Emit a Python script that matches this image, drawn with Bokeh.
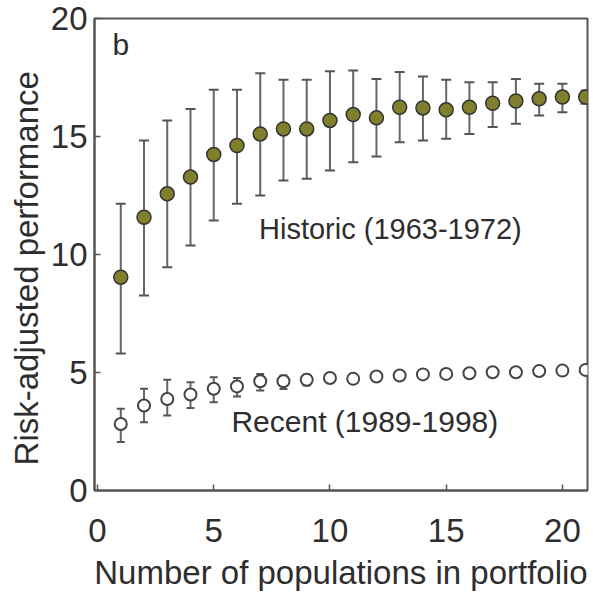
from bokeh.plotting import figure
from bokeh.models import ColumnDataSource, Whisker, Label, FixedTicker, Range1d
from bokeh.embed import file_html
from bokeh.resources import INLINE

# ---- data ----
n_pop = list(range(1, 22))

hist_mean = [9.04, 11.58, 12.57, 13.28, 14.24, 14.62, 15.11, 15.32, 15.32, 15.68,
             15.93, 15.79, 16.24, 16.21, 16.13, 16.24, 16.41, 16.50, 16.60, 16.67, 16.67]
hist_upper = [12.15, 14.83, 15.68, 16.17, 16.98, 16.98, 17.68, 17.40, 17.40, 17.77,
              17.80, 17.44, 17.73, 17.54, 17.40, 17.30, 17.30, 17.44, 17.23, 17.23, 16.95]
hist_lower = [5.80, 8.26, 9.46, 10.38, 11.44, 12.15, 12.50, 13.14, 13.21, 13.56,
              13.91, 14.15, 14.76, 14.83, 14.90, 15.11, 15.40, 15.54, 15.89, 16.03, 16.39]

rec_mean = [2.82, 3.60, 3.88, 4.07, 4.31, 4.41, 4.63, 4.63, 4.69, 4.77,
            4.73, 4.83, 4.87, 4.92, 4.94, 4.97, 5.01, 5.01, 5.06, 5.08, 5.11]
rec_upper = [3.46, 4.31, 4.69, 4.59, 4.80, 4.77, 4.94, 4.87, 4.90, 4.95,
             4.90, 4.98, 5.02, 5.06, 5.08, 5.10, 5.14, 5.14, 5.18, 5.20, 5.22]
rec_lower = [2.05, 2.89, 3.18, 3.50, 3.74, 3.98, 4.24, 4.30, 4.45, 4.58,
             4.56, 4.68, 4.72, 4.78, 4.80, 4.84, 4.88, 4.88, 4.94, 4.96, 5.00]

x_ticks = [0, 5, 10, 15, 20]
y_ticks = [0, 5, 10, 15, 20]

panel_letter = "b"
hist_label = "Historic (1963-1972)"
rec_label = "Recent (1989-1998)"
x_title = "Number of populations in portfolio"
y_title = "Risk-adjusted performance"

FONT = "Liberation Sans"
TXT = "#2e2e2e"
OLIVE = "#7f7f2c"

hist_src = ColumnDataSource(dict(x=n_pop, y=hist_mean, up=hist_upper, lo=hist_lower))
rec_src = ColumnDataSource(dict(x=n_pop, y=rec_mean, up=rec_upper, lo=rec_lower))

p = figure(width=593, height=596, output_backend="svg", toolbar_location=None,
           x_range=Range1d(-0.13, 21.08), y_range=Range1d(0, 20),
           min_border_left=94, min_border_right=6, min_border_top=18, min_border_bottom=106)

p.grid.visible = False
p.outline_line_color = "#555555"
p.outline_line_width = 2
p.background_fill_color = "white"
p.border_fill_color = "white"

for ax in (p.xaxis[0], p.yaxis[0]):
    ax.axis_line_color = "#555555"
    ax.axis_line_width = 2
    ax.major_tick_in = 6
    ax.major_tick_out = 0
    ax.major_tick_line_color = "#555555"
    ax.major_tick_line_width = 1.5
    ax.minor_tick_line_color = None
    ax.major_label_text_font = FONT
    ax.major_label_text_font_size = "33px"
    ax.major_label_text_color = TXT
    ax.major_label_text_line_height = 0.9
    ax.axis_label_text_font = FONT
    ax.axis_label_text_font_size = "33px"
    ax.axis_label_text_font_style = "normal"
    ax.axis_label_text_color = TXT
    ax.axis_label_text_line_height = 0.9

p.xaxis.ticker = FixedTicker(ticks=x_ticks)
p.yaxis.ticker = FixedTicker(ticks=y_ticks)
p.xaxis.axis_label = x_title
p.yaxis.axis_label = y_title + "\u00a0\u00a0\u00a0"
p.xaxis.major_label_standoff = 28
p.xaxis.axis_label_standoff = 9
p.yaxis.major_label_standoff = 7
p.yaxis.axis_label_standoff = 3

# error bars
hw = Whisker(source=hist_src, base="x", upper="up", lower="lo",
             line_color="#666666", line_width=2)
hw.upper_head.size = 10
hw.lower_head.size = 10
hw.upper_head.line_color = "#555555"
hw.lower_head.line_color = "#555555"
hw.upper_head.line_width = 2
hw.lower_head.line_width = 2
p.add_layout(hw)

rw = Whisker(source=rec_src, base="x", upper="up", lower="lo",
             line_color="#666666", line_width=2)
rw.upper_head.size = 8
rw.lower_head.size = 8
rw.upper_head.line_color = "#555555"
rw.lower_head.line_color = "#555555"
rw.upper_head.line_width = 2
rw.lower_head.line_width = 2
p.add_layout(rw)

p.scatter("x", "y", source=hist_src, size=14, marker="circle",
          fill_color=OLIVE, line_color="#333333", line_width=1.5)
p.scatter("x", "y", source=rec_src, size=12, marker="circle",
          fill_color="white", line_color="#444444", line_width=2)

p.add_layout(Label(x=1.0, y=18.9, text=panel_letter, text_font=FONT, text_font_size="30px",
                   text_color=TXT, text_align="center", text_baseline="middle"))
p.add_layout(Label(x=12.6, y=11.1, text=hist_label, text_font=FONT, text_font_size="29px",
                   text_color=TXT, text_align="center", text_baseline="middle"))
p.add_layout(Label(x=11.5, y=2.92, text=rec_label, text_font=FONT, text_font_size="30px",
                   text_color=TXT, text_align="center", text_baseline="middle"))

open("out.html", "w").write(file_html(p, INLINE))
